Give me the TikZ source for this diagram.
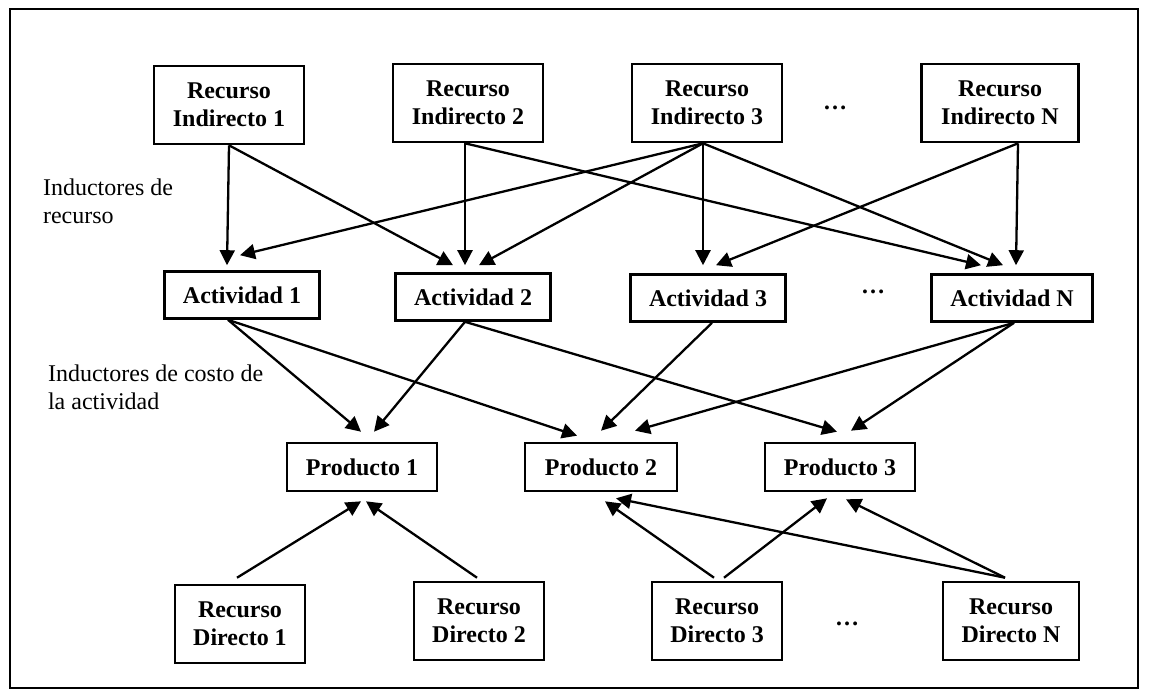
\documentclass[tikz,border=0pt]{standalone}
\usepackage{fontspec}
\setmainfont{Liberation Serif}
\usepackage{tikz}
\usetikzlibrary{arrows.meta}

\tikzset{
  caja/.style={draw, line width=1.3pt, align=center, inner sep=0pt,
    font=\fontsize{12}{14}\selectfont\bfseries},
  recind/.style={caja, minimum width=75pt, minimum height=39pt},
  activ/.style={caja, minimum width=77.5pt, minimum height=23.5pt},
  prod/.style={caja, minimum width=75pt, minimum height=24pt},
  recdir/.style={caja, minimum width=65pt, minimum height=39pt},
  puntos/.style={font=\fontsize{12}{14}\selectfont\bfseries},
  nota/.style={anchor=west, align=left, font=\fontsize{12}{14}\selectfont},
  flecha/.style={line width=1.15pt, -{Triangle[length=7.5pt,width=7.5pt]}}
}

\begin{document}
\begin{tikzpicture}[x=0.5pt,y=-0.5pt]
\useasboundingbox (0,0) rectangle (1149,697);
\draw[line width=0.8pt] (10,9) rectangle (1138,688);

% recursos indirectos
\node[recind] (ri1) at (229,105) {Recurso\\Indirecto 1};
\node[recind] (ri2) at (468,103) {Recurso\\Indirecto 2};
\node[recind] (ri3) at (707,103) {Recurso\\Indirecto 3};
\node[puntos] (p1) at (835,108) {…};
\node[recind, minimum width=78.5pt] (rin) at (1000,103) {Recurso\\Indirecto N};

\node[nota] (ind1) at (36,201) {Inductores de\\recurso};

% actividades
\node[activ] (act1) at (242,295) {Actividad 1};
\node[activ] (act2) at (473,297) {Actividad 2};
\node[activ] (act3) at (708,298) {Actividad 3};
\node[puntos] (p2) at (873,292) {…};
\node[activ, minimum width=80.5pt] (actn) at (1012,298) {Actividad N};

\node[nota] (ind2) at (41,387) {Inductores de costo de\\la actividad};

% productos
\node[prod] (prod1) at (362,467) {Producto 1};
\node[prod, minimum width=76pt] (prod2) at (601,467) {Producto 2};
\node[prod] (prod3) at (840,467) {Producto 3};

% recursos directos
\node[recdir] (rd1) at (240,624) {Recurso\\Directo 1};
\node[recdir] (rd2) at (479,621) {Recurso\\Directo 2};
\node[recdir] (rd3) at (717,621) {Recurso\\Directo 3};
\node[puntos] (p3) at (847,624) {…};
\node[recdir, minimum width=68pt] (rdn) at (1011,621) {Recurso\\Directo N};

% inductores de recurso
\draw[flecha] (ri1.south) -- ([shift={(-15,-5)}]act1.north);
\draw[flecha] (ri1.south) -- ([shift={(-20,-7)}]act2.north);
\draw[flecha] ([shift={(-3,0)}]ri2.south) -- ([shift={(-8,-7)}]act2.north);
\draw[flecha] ([shift={(-3,0)}]ri2.south) -- ([shift={(-31,-8)}]actn.north);
\draw[flecha] ([shift={(-4,0)}]ri3.south) -- ([shift={(-2,-15)}]act1.north);
\draw[flecha] ([shift={(-4,0)}]ri3.south) -- ([shift={(6,-7)}]act2.north);
\draw[flecha] ([shift={(-4,0)}]ri3.south) -- ([shift={(-5,-8)}]act3.north);
\draw[flecha] ([shift={(-4,0)}]ri3.south) -- ([shift={(-9,-8)}]actn.north);
\draw[flecha] ([shift={(18,0)}]rin.south) -- ([shift={(8,-8)}]act3.north);
\draw[flecha] ([shift={(18,0)}]rin.south) -- ([shift={(4,-8)}]actn.north);

% inductores de costo
\draw[flecha] ([shift={(-14,0)}]act1.south) -- ([shift={(-1,-10)}]prod1.north);
\draw[flecha] ([shift={(-14,0)}]act1.south) -- ([shift={(-24,-6)}]prod2.north);
\draw[flecha] ([shift={(-8,0)}]act2.south) -- ([shift={(12,-10)}]prod1.north);
\draw[flecha] ([shift={(-8,0)}]act2.south) -- ([shift={(-3,-10)}]prod3.north);
\draw[flecha] ([shift={(4,0)}]act3.south) -- ([shift={(0,-11)}]prod2.north);
\draw[flecha] ([shift={(2,0)}]actn.south) -- ([shift={(34,-11)}]prod2.north);
\draw[flecha] ([shift={(2,0)}]actn.south) -- ([shift={(11,-11)}]prod3.north);

% recursos directos
\draw[flecha] ([shift={(-3,-6)}]rd1.north) -- ([shift={(-1,9)}]prod1.south);
\draw[flecha] ([shift={(-2,-3)}]rd2.north) -- ([shift={(4,9)}]prod1.south);
\draw[flecha] ([shift={(-3,-3)}]rd3.north) -- ([shift={(4,9)}]prod2.south);
\draw[flecha] ([shift={(7,-3)}]rd3.north) -- ([shift={(-13,6)}]prod3.south);
\draw[flecha] ([shift={(-6,-3)}]rdn.north) -- ([shift={(15,6)}]prod2.south);
\draw[flecha] ([shift={(-6,-3)}]rdn.north) -- ([shift={(6,7)}]prod3.south);
\end{tikzpicture}
\end{document}
